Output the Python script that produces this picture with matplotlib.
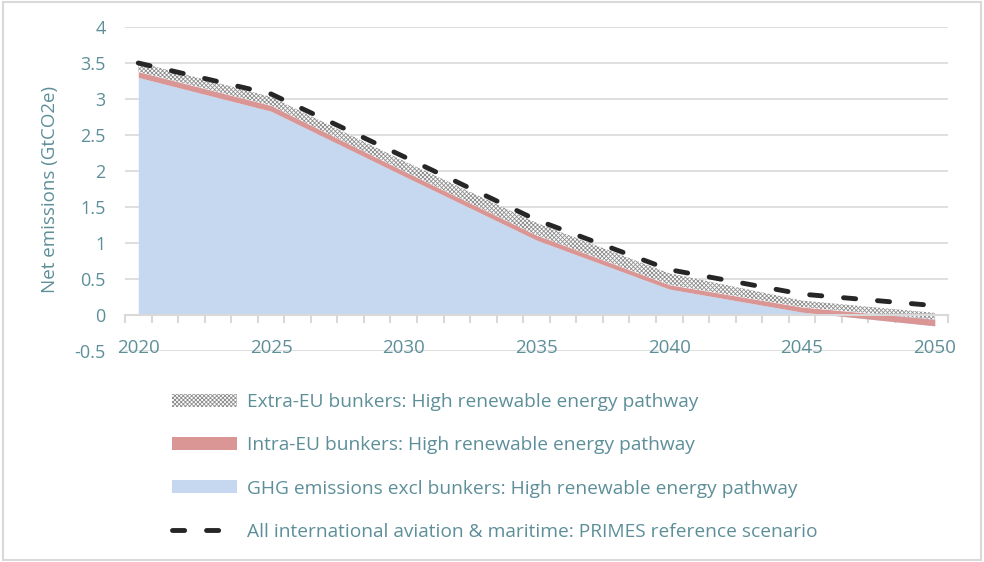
import numpy as np
import matplotlib
matplotlib.use("Agg")
import matplotlib.pyplot as plt
from matplotlib.patches import Patch, Rectangle
from matplotlib.lines import Line2D
from matplotlib.ticker import FixedLocator

plt.rcParams['font.family'] = ['Open Sans', 'DejaVu Sans']

# data (GtCO2e), 5-year steps
years = [2020, 2025, 2030, 2035, 2040, 2045, 2050]
ghg_excl_bunkers = [3.30, 2.83, 1.93, 1.04, 0.36, 0.04, -0.15]
intra_eu_bunkers = [0.08, 0.08, 0.07, 0.07, 0.06, 0.07, 0.09]
extra_eu_bunkers = [0.13, 0.12, 0.14, 0.17, 0.16, 0.09, 0.09]
primes_reference = [3.50, 3.07, 2.20, 1.32, 0.63, 0.29, 0.13]

labels = [
    "Extra-EU bunkers: High renewable energy pathway",
    "Intra-EU bunkers: High renewable energy pathway",
    "GHG emissions excl bunkers: High renewable energy pathway",
    "All international aviation & maritime: PRIMES reference scenario",
]

text_color = '#5d8f99'
grid_color = '#d9d9d9'
blue = '#c6d8ef'
pink = '#d99694'
dash_color = '#262626'
hatch_color = '#8f8f8f'

plt.rcParams['hatch.linewidth'] = 0.6

fig = plt.figure(figsize=(9.84, 5.62), dpi=100)
ax = fig.add_axes([125 / 984, 1 - 351 / 562, (948 - 125) / 984, (351 - 27) / 562])

x = np.array(years)
b = np.array(ghg_excl_bunkers)
p = b + np.array(intra_eu_bunkers)
e = p + np.array(extra_eu_bunkers)

ax.fill_between(x, 0, b, color=blue, linewidth=0, zorder=2)
ax.fill_between(x, b, p, color=pink, linewidth=0, zorder=3)
ax.fill_between(x, p, e, facecolor='white', edgecolor=hatch_color, hatch='xxxxxxxx',
                linewidth=0, zorder=4)
ax.plot(x, primes_reference, color=dash_color, linewidth=3.5, dashes=(2.5, 4.5),
        dash_capstyle='round', zorder=5)

ax.set_xlim(2019.5, 2050.5)
ax.set_ylim(-0.5, 4)

# y axis
ax.set_yticks(np.arange(-0.5, 4.01, 0.5))
ax.set_yticklabels(['-0.5', '0', '0.5', '1', '1.5', '2', '2.5', '3', '3.5', '4'])
for yv in np.arange(-0.5, 4.01, 0.5):
    if abs(yv) > 1e-9:
        ax.axhline(yv, color=grid_color, linewidth=1.2, zorder=1)
ax.tick_params(axis='y', length=0, pad=14, labelsize=13, labelcolor=text_color)

# x axis crossing at zero
for s in ['top', 'right', 'left']:
    ax.spines[s].set_visible(False)
ax.spines['bottom'].set_position(('data', 0))
ax.spines['bottom'].set_color(grid_color)
ax.spines['bottom'].set_linewidth(1.5)
ax.spines['bottom'].set_zorder(6)
ax.set_xticks(range(2020, 2051, 5))
ax.xaxis.set_minor_locator(FixedLocator(np.arange(2019.5, 2051, 1)))
ax.tick_params(axis='x', which='major', length=0, pad=17, labelsize=13.5,
               labelcolor=text_color)
ax.tick_params(axis='x', which='minor', length=6, width=1.5, color=grid_color)

ax.set_ylabel("Net emissions (GtCO2e)", fontsize=13.5, color=text_color)
ax.yaxis.set_label_coords(-0.08, 0.5)

handles = [
    Patch(facecolor='white', edgecolor=hatch_color, hatch='xxxxxxxx', linewidth=0),
    Patch(facecolor=pink, linewidth=0),
    Patch(facecolor=blue, linewidth=0),
    Line2D([0], [0], color=dash_color, linewidth=3.5, dashes=(2.5, 4.5),
           dash_capstyle='round'),
]
leg = fig.legend(handles, labels, loc='upper left',
                 bbox_to_anchor=(172 / 984, 1 - 393 / 562),
                 frameon=False, fontsize=13.8, handlelength=3.4, handleheight=0.65,
                 handletextpad=0.5, labelspacing=1.32, borderpad=0,
                 borderaxespad=0)
for t in leg.get_texts():
    t.set_color(text_color)

fig.patches.append(Rectangle((3 / 984, 2 / 562), 978 / 984, 558 / 562,
                             transform=fig.transFigure, fill=False,
                             edgecolor=grid_color, linewidth=1.5))

fig.savefig('out.png', dpi=100)
